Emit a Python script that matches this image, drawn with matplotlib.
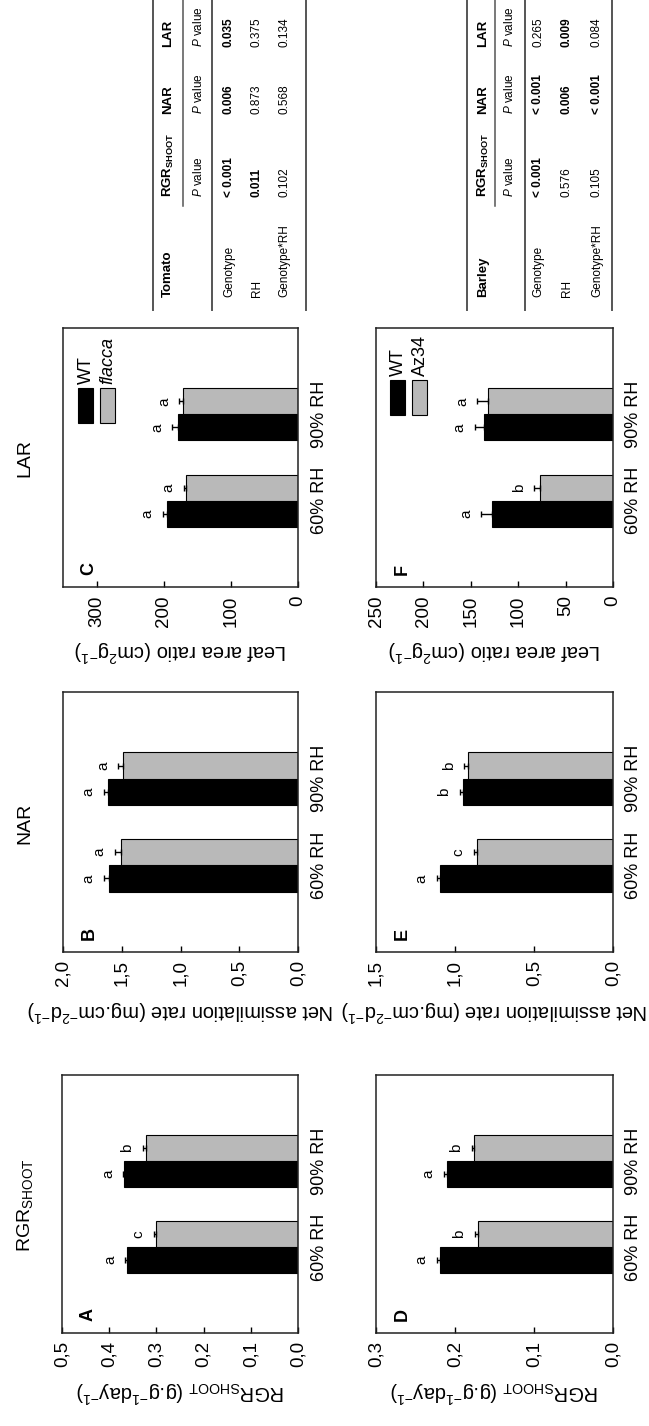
import matplotlib
matplotlib.use("Agg")
import matplotlib.pyplot as plt
from matplotlib.patches import Rectangle
from matplotlib.lines import Line2D

plt.rcParams['font.family'] = ['Liberation Sans', 'DejaVu Sans']
plt.rcParams['mathtext.fontset'] = 'custom'
plt.rcParams['mathtext.rm'] = 'Liberation Sans'
plt.rcParams['mathtext.it'] = 'Liberation Sans:italic'
plt.rcParams['mathtext.bf'] = 'Liberation Sans:bold'

# ---- data ----
groups = ['60% RH', '90% RH']

# tomato: WT vs flacca
rgr_tom_wt = [0.362, 0.368]
rgr_tom_mut = [0.300, 0.322]
rgr_tom_wt_err = [0.004, 0.002]
rgr_tom_mut_err = [0.005, 0.007]
rgr_tom_wt_let = ['a', 'a']
rgr_tom_mut_let = ['c', 'b']

nar_tom_wt = [1.61, 1.62]
nar_tom_mut = [1.51, 1.49]
nar_tom_wt_err = [0.04, 0.03]
nar_tom_mut_err = [0.05, 0.04]
nar_tom_wt_let = ['a', 'a']
nar_tom_mut_let = ['a', 'a']

lar_tom_wt = [195, 179]
lar_tom_mut = [167, 172]
lar_tom_wt_err = [6, 8]
lar_tom_mut_err = [3, 5]
lar_tom_wt_let = ['a', 'a']
lar_tom_mut_let = ['a', 'a']

# barley: WT vs Az34
rgr_bar_wt = [0.219, 0.210]
rgr_bar_mut = [0.171, 0.176]
rgr_bar_wt_err = [0.004, 0.004]
rgr_bar_mut_err = [0.004, 0.003]
rgr_bar_wt_let = ['a', 'a']
rgr_bar_mut_let = ['b', 'b']

nar_bar_wt = [1.095, 0.95]
nar_bar_mut = [0.86, 0.92]
nar_bar_wt_err = [0.02, 0.02]
nar_bar_mut_err = [0.02, 0.02]
nar_bar_wt_let = ['a', 'b']
nar_bar_mut_let = ['c', 'b']

lar_bar_wt = [128, 136]
lar_bar_mut = [77, 132]
lar_bar_wt_err = [11, 10]
lar_bar_mut_err = [6, 11]
lar_bar_wt_let = ['a', 'a']
lar_bar_mut_let = ['b', 'a']

rgr_ticks = [0.0, 0.1, 0.2, 0.3, 0.4, 0.5]
rgr_ticklabels = ['0,0', '0,1', '0,2', '0,3', '0,4', '0,5']
rgr_bar_ticks = [0.0, 0.1, 0.2, 0.3]
rgr_bar_ticklabels = ['0,0', '0,1', '0,2', '0,3']
nar_ticks = [0.0, 0.5, 1.0, 1.5, 2.0]
nar_ticklabels = ['0,0', '0,5', '1,0', '1,5', '2,0']
nar_bar_ticks = [0.0, 0.5, 1.0, 1.5]
nar_bar_ticklabels = ['0,0', '0,5', '1,0', '1,5']
lar_ticks = [0, 100, 200, 300]
lar_ticklabels = ['0', '100', '200', '300']
lar_bar_ticks = [0, 50, 100, 150, 200, 250]
lar_bar_ticklabels = ['0', '50', '100', '150', '200', '250']

rgr_label = r'RGR$_{\mathrm{SHOOT}}$ (g.g$^{\mathrm{-1}}$day$^{\mathrm{-1}}$)'
nar_label = r'Net assimilation rate (mg.cm$^{\mathrm{-2}}$d$^{\mathrm{-1}}$)'
lar_label = r'Leaf area ratio (cm$^{\mathrm{2}}$g$^{\mathrm{-1}}$)'

table_cols = [r'RGR$_{\mathbf{SHOOT}}$', 'NAR', 'LAR']
table_rows = ['Genotype', 'RH', 'Genotype*RH']
tomato_p = [['< 0.001', '0.006', '0.035'],
            ['0.011', '0.873', '0.375'],
            ['0.102', '0.568', '0.134']]
tomato_bold = [[True, True, True],
               [True, False, False],
               [False, False, False]]
barley_p = [['< 0.001', '< 0.001', '0.265'],
            ['0.576', '0.006', '0.009'],
            ['0.105', '< 0.001', '0.084']]
barley_bold = [[True, True, False],
               [False, True, True],
               [False, True, False]]

GRAY = '#b9b9b9'
W, H = 649, 1426
fig = plt.figure(figsize=(W / 100, H / 100), dpi=100)


def fx(x):
    return x / W


def fy(y):
    return 1 - y / H


def add_panel(box, wt, mut, wt_err, mut_err, wt_let, mut_let,
              xmax, ticks, ticklabels, xlabel, letter):
    x0, x1, y0, y1 = box
    ax = fig.add_axes([fx(x0), fy(y1), (x1 - x0) / W, (y1 - y0) / H])
    pos_wt = [2.8 + 3.3 * i for i in range(len(groups))]
    pos_mut = [p + 1.0 for p in pos_wt]
    ax.barh(pos_wt, wt, height=1.0, color='black', edgecolor='black', lw=0.8)
    ax.barh(pos_mut, mut, height=1.0, color=GRAY, edgecolor='black', lw=0.8)
    zeros = [0] * len(groups)
    ax.errorbar(wt, pos_wt, xerr=[zeros, wt_err], fmt='none', ecolor='black',
                elinewidth=1, capsize=2.2, capthick=1)
    ax.errorbar(mut, pos_mut, xerr=[zeros, mut_err], fmt='none', ecolor='black',
                elinewidth=1, capsize=2.2, capthick=1)
    for vals, errs, pos, lets in [(wt, wt_err, pos_wt, wt_let),
                                  (mut, mut_err, pos_mut, mut_let)]:
        for v, e, p, t in zip(vals, errs, pos, lets):
            ax.annotate(t, (v + e, p), xytext=(-11, 0), textcoords='offset points',
                        rotation=90, ha='center', va='center', fontsize=11)
    ax.set_xlim(xmax, 0)
    ax.set_ylim(0, 9.9)
    ax.set_xticks(ticks)
    ax.set_xticklabels(ticklabels, rotation=90, fontsize=13.5)
    ax.tick_params(axis='x', direction='in', length=4, width=1, pad=6)
    ax.yaxis.tick_right()
    ax.set_yticks([p + 0.5 for p in pos_wt])
    ax.set_yticklabels(groups, rotation=90, va='center', fontsize=13)
    ax.tick_params(axis='y', length=0, pad=9)
    ax.set_xlabel(xlabel, rotation=180, fontsize=14.5, labelpad=8)
    for s in ax.spines.values():
        s.set_linewidth(1.1)
        s.set_color('#222222')
    ax.text(0.11, 0.045, letter, transform=ax.transAxes, rotation=90,
            ha='center', va='bottom', fontsize=13, fontweight='bold')
    return ax


def add_legend(ax, xs, y0, y1, labels, italic):
    for x, c, lab, it in zip(xs, ['black', GRAY], labels, italic):
        ax.add_patch(Rectangle((x, y0), 0.064, y1 - y0, transform=ax.transAxes,
                               facecolor=c, edgecolor='black', lw=0.8))
        ax.text(x + 0.034, y1 + 0.015, lab, transform=ax.transAxes, rotation=90,
                ha='center', va='bottom', fontsize=13,
                style='italic' if it else 'normal')


# left column (tomato), right column (barley)
add_panel((62, 298, 1075, 1333), rgr_tom_wt, rgr_tom_mut, rgr_tom_wt_err, rgr_tom_mut_err,
          rgr_tom_wt_let, rgr_tom_mut_let, 0.5, rgr_ticks, rgr_ticklabels, rgr_label, 'A')
add_panel((63, 298, 692, 952), nar_tom_wt, nar_tom_mut, nar_tom_wt_err, nar_tom_mut_err,
          nar_tom_wt_let, nar_tom_mut_let, 2.0, nar_ticks, nar_ticklabels, nar_label, 'B')
axC = add_panel((63, 298, 328, 587), lar_tom_wt, lar_tom_mut, lar_tom_wt_err, lar_tom_mut_err,
                lar_tom_wt_let, lar_tom_mut_let, 350, lar_ticks, lar_ticklabels, lar_label, 'C')
add_panel((376, 613, 1075, 1333), rgr_bar_wt, rgr_bar_mut, rgr_bar_wt_err, rgr_bar_mut_err,
          rgr_bar_wt_let, rgr_bar_mut_let, 0.3, rgr_bar_ticks, rgr_bar_ticklabels, rgr_label, 'D')
add_panel((376, 613, 692, 952), nar_bar_wt, nar_bar_mut, nar_bar_wt_err, nar_bar_mut_err,
          nar_bar_wt_let, nar_bar_mut_let, 1.5, nar_bar_ticks, nar_bar_ticklabels, nar_label, 'E')
axF = add_panel((376, 613, 328, 587), lar_bar_wt, lar_bar_mut, lar_bar_wt_err, lar_bar_mut_err,
                lar_bar_wt_let, lar_bar_mut_let, 250, lar_bar_ticks, lar_bar_ticklabels, lar_label, 'F')

add_legend(axC, [0.064, 0.157], 0.633, 0.768, ['WT', 'flacca'], [False, True])
add_legend(axF, [0.059, 0.152], 0.664, 0.80, ['WT', 'Az34'], [False, False])

# column titles
fig.text(fx(25), fy(1205), r'RGR$_{\mathrm{SHOOT}}$', rotation=90, ha='center', va='center', fontsize=14)
fig.text(fx(25), fy(823), 'NAR', rotation=90, ha='center', va='center', fontsize=14)
fig.text(fx(25), fy(458), 'LAR', rotation=90, ha='center', va='center', fontsize=14)


def draw_table(name, p_vals, bold, row_x, line_x, partial_x):
    # row_x: header, subheader, then data rows; text starts at col_y (bottom)
    col_y = [297, 197, 114, 47]
    for lx in line_x:
        fig.add_artist(Line2D([fx(lx), fx(lx)], [fy(0), fy(310)], transform=fig.transFigure,
                              color='#555555', lw=1.4))
    fig.add_artist(Line2D([fx(partial_x), fx(partial_x)], [fy(0), fy(206)],
                          transform=fig.transFigure, color='#555555', lw=1.1))
    fig.text(fx(row_x[0]), fy(col_y[0]), name, rotation=90, ha='center', va='bottom',
             fontsize=9.5, fontweight='bold')
    for j, col in enumerate(table_cols):
        fig.text(fx(row_x[0]), fy(col_y[j + 1]), col, rotation=90, ha='center', va='bottom',
                 fontsize=9.5, fontweight='bold')
        fig.text(fx(row_x[1]), fy(col_y[j + 1]), r'$\mathit{P}$ value', rotation=90,
                 ha='center', va='bottom', fontsize=8.5)
    for i, rname in enumerate(table_rows):
        fig.text(fx(row_x[i + 2]), fy(col_y[0]), rname, rotation=90, ha='center', va='bottom',
                 fontsize=8.5)
        for j in range(3):
            fig.text(fx(row_x[i + 2]), fy(col_y[j + 1]), p_vals[i][j], rotation=90,
                     ha='center', va='bottom', fontsize=8.5,
                     fontweight='bold' if bold[i][j] else 'normal')


draw_table('Tomato', tomato_p, tomato_bold, [168, 199, 229, 257, 284], [153, 212, 306], 183)
draw_table('Barley', barley_p, barley_bold, [483, 510, 538, 567, 597], [467, 525, 612], 495)

fig.savefig('out.png', dpi=100)
